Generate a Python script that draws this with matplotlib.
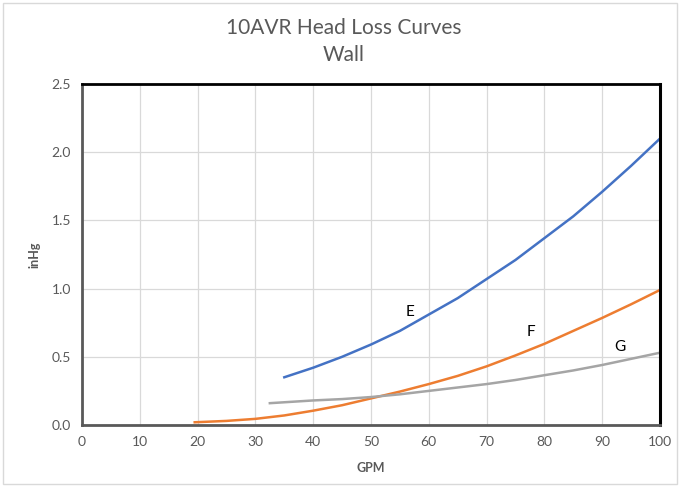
import matplotlib
matplotlib.use("Agg")
import matplotlib.pyplot as plt
from matplotlib.patches import Rectangle

plt.rcParams['font.family'] = ['Lato', 'DejaVu Sans']

# Data
e_x = [35, 40, 45, 50, 55, 60, 65, 70, 75, 80, 85, 90, 95, 100]
e_y = [0.35, 0.42, 0.50, 0.59, 0.69, 0.81, 0.93, 1.07, 1.21, 1.37, 1.53, 1.71, 1.90, 2.10]
f_x = [19.5, 25, 30, 35, 40, 45, 50, 55, 60, 65, 70, 75, 80, 85, 90, 95, 100]
f_y = [0.02, 0.03, 0.045, 0.07, 0.105, 0.145, 0.195, 0.245, 0.30, 0.36, 0.43, 0.51, 0.595, 0.69, 0.785, 0.885, 0.99]
g_x = [32.5, 40, 45, 50, 55, 60, 65, 70, 75, 80, 85, 90, 95, 100]
g_y = [0.16, 0.18, 0.19, 0.205, 0.225, 0.25, 0.275, 0.30, 0.33, 0.365, 0.40, 0.44, 0.485, 0.53]

labels = ['E', 'F', 'G']
label_x = [56.7, 77.7, 93.0]
label_y = [0.83, 0.68, 0.57]

x_ticks = [0, 10, 20, 30, 40, 50, 60, 70, 80, 90, 100]
y_ticks = [0.0, 0.5, 1.0, 1.5, 2.0, 2.5]

fig = plt.figure(figsize=(6.88, 4.87), dpi=100)
fig.patches.append(Rectangle((3/688, 3/487), 674/688, 481/487, transform=fig.transFigure,
                             fill=False, edgecolor='#d9d9d9', linewidth=1))
ax = fig.add_axes([82/688, 62/487, 578/688, 341/487])

ax.plot(e_x, e_y, color='#4472c4', linewidth=1.8)
ax.plot(f_x, f_y, color='#ed7d31', linewidth=1.8)
ax.plot(g_x, g_y, color='#a5a5a5', linewidth=1.8)

for t, x, y in zip(labels, label_x, label_y):
    ax.text(x, y, t, fontsize=11, color='black', ha='center', va='center')

ax.set_xlim(0, 100)
ax.set_ylim(0, 2.5)
ax.set_xticks(x_ticks)
ax.set_yticks(y_ticks)
ax.set_yticklabels([f'{v:.1f}' for v in y_ticks])
ax.grid(True, color='#d9d9d9', linewidth=0.9)
ax.set_axisbelow(True)
ax.tick_params(length=0, labelsize=10, colors='#595959', pad=8)

ax.spines['top'].set_color('black')
ax.spines['top'].set_linewidth(2)
ax.spines['right'].set_color('black')
ax.spines['right'].set_linewidth(2.2)
ax.spines['left'].set_color('#595959')
ax.spines['left'].set_linewidth(2)
ax.spines['bottom'].set_color('#595959')
ax.spines['bottom'].set_linewidth(2)

ax.set_xlabel('GPM', fontsize=9, fontweight='bold', color='#595959', labelpad=10)
ax.set_ylabel('inHg', fontsize=9, fontweight='bold', color='#595959', labelpad=8)

fig.text(0.5, 1 - 28/487, '10AVR Head Loss Curves', ha='center', va='center', fontsize=15, color='#595959')
fig.text(0.5, 1 - 55/487, 'Wall', ha='center', va='center', fontsize=15, color='#595959')

fig.savefig('out.png', dpi=100)
